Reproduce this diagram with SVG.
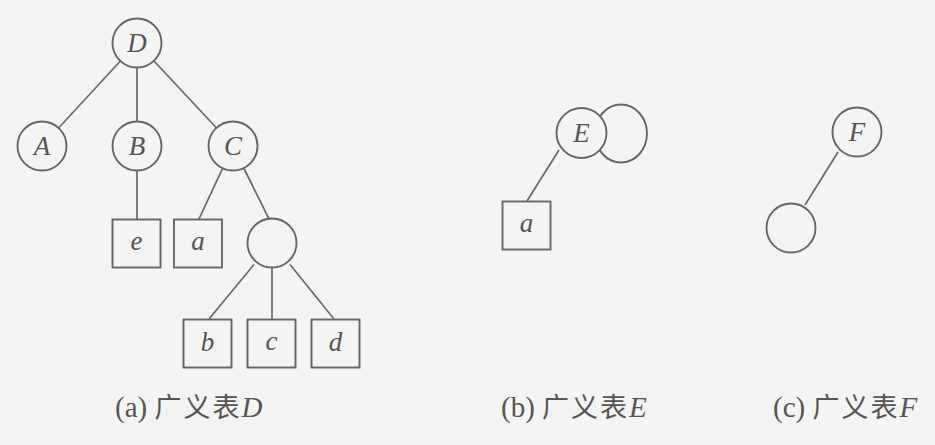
<svg xmlns="http://www.w3.org/2000/svg" width="935" height="445" viewBox="0 0 935 445">
<style>
.n{fill:#f4f4f2;stroke:#666;stroke-width:1.9}
.e{stroke:#6a6a6a;stroke-width:1.7;fill:none}
.t{font-family:"Liberation Serif","Times New Roman",serif;font-style:italic;font-size:27px;fill:#555;text-anchor:middle}
.cap{font-family:"Liberation Serif","Noto Sans CJK SC",serif;font-size:29px;fill:#555}
.cj{font-family:"Noto Sans CJK SC",sans-serif;font-size:27px;letter-spacing:2px}
.it{font-style:italic}
</style>
<rect width="935" height="445" fill="#f4f4f2"/>
<g id="connectors" class="e">
<line x1="120.4" y1="61" x2="58.6" y2="128"/>
<line x1="137" y1="67.5" x2="137" y2="121.5"/>
<line x1="154" y1="61" x2="216.5" y2="128"/>
<line x1="137" y1="170.5" x2="137" y2="219"/>
<line x1="222.7" y1="168.2" x2="199" y2="219"/>
<line x1="244" y1="168.5" x2="269" y2="219"/>
<line x1="254" y1="264.5" x2="209" y2="319"/>
<line x1="272" y1="267.5" x2="272" y2="319"/>
<line x1="290" y1="264.5" x2="334" y2="319"/>
<line x1="559" y1="150" x2="527" y2="201"/>
<line x1="838" y1="152" x2="805" y2="205"/>
</g>
<g id="node-D"><circle class="n" cx="137" cy="43" r="24.5"/><text class="t" x="137" y="52">D</text></g>
<g id="node-A"><circle class="n" cx="42" cy="146" r="24.5"/><text class="t" x="42" y="155">A</text></g>
<g id="node-B"><circle class="n" cx="137" cy="146" r="24.5"/><text class="t" x="137" y="155">B</text></g>
<g id="node-C"><circle class="n" cx="233" cy="146" r="24.5"/><text class="t" x="233" y="155">C</text></g>
<g id="node-e"><rect class="n" x="112.5" y="219.5" width="48" height="48"/><text class="t" x="136.5" y="250">e</text></g>
<g id="node-a1"><rect class="n" x="174" y="219.5" width="48" height="48"/><text class="t" x="198" y="250">a</text></g>
<g id="node-sub"><circle class="n" cx="272" cy="243" r="24.5"/></g>
<g id="node-b"><rect class="n" x="183.5" y="319.5" width="48" height="48"/><text class="t" x="207.5" y="351">b</text></g>
<g id="node-c"><rect class="n" x="247.5" y="319.5" width="48" height="48"/><text class="t" x="271.5" y="350">c</text></g>
<g id="node-d"><rect class="n" x="311.5" y="319.5" width="48" height="48"/><text class="t" x="335.5" y="351">d</text></g>
<g id="node-Eloop"><ellipse class="n" cx="621" cy="133.5" rx="26" ry="29"/></g>
<g id="node-E"><circle class="n" cx="581.5" cy="133" r="25"/><text class="t" x="581.5" y="142">E</text></g>
<g id="node-a2"><rect class="n" x="502.5" y="201.5" width="48" height="48"/><text class="t" x="526.5" y="232">a</text></g>
<g id="node-F"><circle class="n" cx="857" cy="132" r="24.5"/><text class="t" x="857" y="141">F</text></g>
<g id="node-Fsub"><circle class="n" cx="791" cy="228" r="24.5"/></g>
<g id="captions">
<text class="cap" x="115" y="417">(a) <tspan class="cj">广义表</tspan><tspan class="it">D</tspan></text>
<text class="cap" x="501" y="417">(b) <tspan class="cj">广义表</tspan><tspan class="it">E</tspan></text>
<text class="cap" x="773" y="417">(c) <tspan class="cj">广义表</tspan><tspan class="it">F</tspan></text>
</g>
</svg>
